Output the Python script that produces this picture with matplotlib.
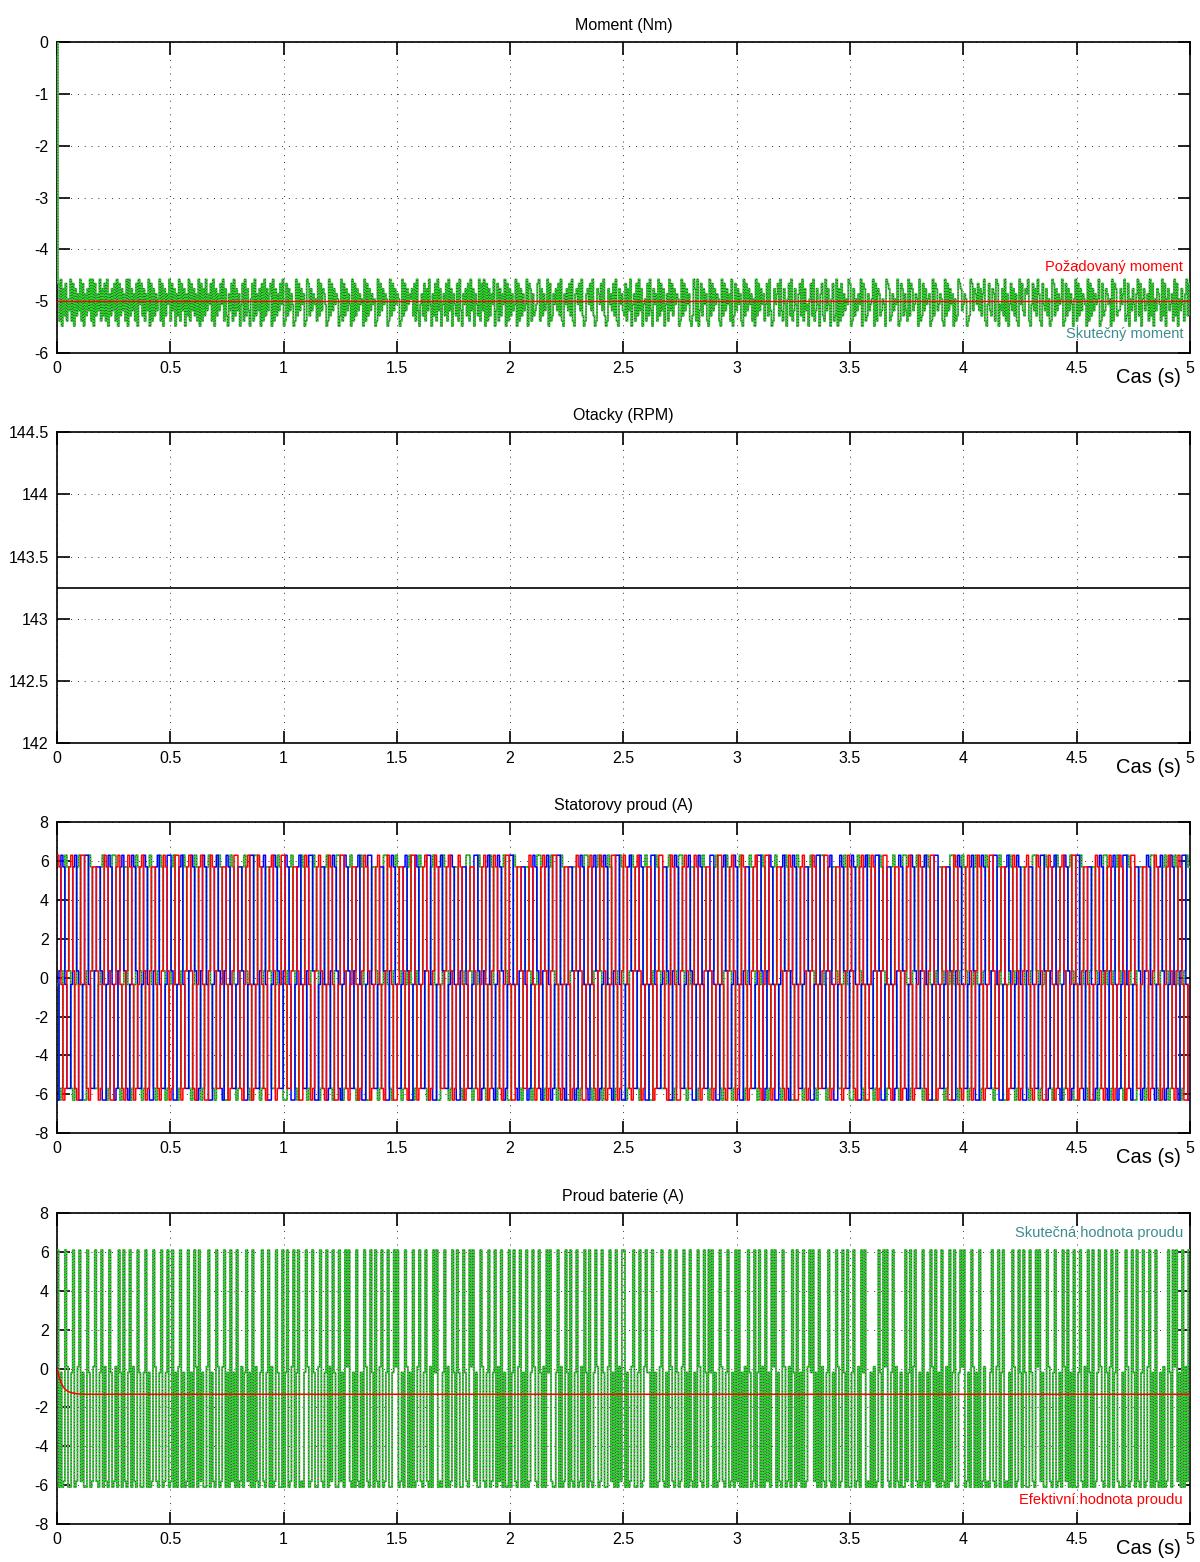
import numpy as np
import matplotlib
matplotlib.use('Agg')
import matplotlib.pyplot as plt
from matplotlib.ticker import FuncFormatter

plt.rcParams['font.family'] = ['Liberation Sans', 'DejaVu Sans']

T_END = 5.0
x_ticks = [0, 0.5, 1, 1.5, 2, 2.5, 3, 3.5, 4, 4.5, 5]

# Moment (Nm): requested value and sampled actual torque (one digit per sample)
torque_ref = -5.0
torque_levels = [-5.48, -5.38, -5.28, -5.18, -5.06, -4.96, -4.86, -4.76, -4.66, -4.58]
torque_codes = (
    "8190728153918072639180627391908263917281906273819082736190"
    "9273618094827163908172635918072649183706291837062918372619"
    "0817293648190726384917206381927360481927305819263708192736"
    "8091726384901827364019283746019827364519283764019283746502"
    "9182736409182736450918273645019283746501928374650192837465"
    "7281930462817394062819370462819370642819306472819370642918"
    "3908172649038172649081726349081726349087162348917263490812"
    "6473829106473829106748392016748392017648392017463829107463"
    "2817390461829370451829307461928370461938274650192837461029"
    "7190382746109283746510928374619028374610928374615092837461"
    "4829301746829317405829137406829173405829137406821937405812"
    "9071826354980172536490871263459081762354098712635490187263"
    "1928734650912837456019287346510928374605129873465012983764"
    "8372691048327619804372916048372610948327691048372961084372"
    "5019827364590182736405918273654091827364590182376450918723"
    "3746912805374169280573461928053764192805734619280537416928"
)

# Otacky (RPM)
speed_rpm = 143.25

# Statorovy proud (A): phase states per commutation step
current_levels = {'H': 6.3, 'h': 5.7, 'Z': 0.35, 'z': -0.35, 'L': -6.3, 'l': -5.7}
phase_a = (
    "HhzLlZ hHZlLz HHzlLZ hhZLlz HhZLLz hHzlLZ HhzLlz hHZLlZ hhzlLZ HhZLlz HHzLlZ hHZlLz "
    "hHzLLZ HhZllz hhzLlZ HHZlLz hHzLlz HhzlLZ hHZLlz HHzllZ hhZLLz HhzLlZ hHZlLz HhzLLz "
    "HHZlLz hhzLlZ HhZLlz hHzlLZ HhzLLz hhZlLZ HHzLlz hHZLlZ HhzllZ hHZLlz HhzLlZ hhZlLz "
    "hHzLlZ HhZlLz HHzLLz hhZllZ HhzLlz hHZLlZ HHzlLz hhzLlZ HhZLLz hHzlLZ HhZLlz HHzLlZ "
    "HhzlLZ hHZLlz hhzLlZ HHZlLz HhzLLZ hHZllz HhzLlZ hhZLlz HHzlLZ hHZLlz HhzLlZ hHZlLz "
    "HHzLlz hhZlLZ HhzLLz hHZLlZ HhzllZ HHZLlz hhzLlZ HhZlLz hHzLLz HhZLlZ HHzlLz hhZLlZ "
    "hHzLlz HhZlLZ HHzLlz hhZLLZ HhzlLz hHZLlZ HhzLlz HHZllZ hhzLlz HhZLlZ hHzlLz HhZLLZ "
    "HhzLlZ hHZlLz HHzLlZ hhzLLz HhZlLZ hHzLlz HhZLlZ HHzllz hhZLlZ HhzLlz hHZlLZ HhzLLz"
)
phase_b = (
    "LZHhzl lzhHZL LzHHzl lZhhZL LzHhzL lZhHZl LzHhZl lzHhzL LZhHzl lzHHZL LzhHzl lZHhZL "
    "lZHhzL LzhHZl LZHhzl lzhhZL LzHHzl lZhHzL LzHhZl lZHhzL LzhHzl lZHHZL LzhhzL lZHhZl "
    "LzHhZl lZhHzL LzHHzl lzhhZL LZHhzl lzhHZL LzHhzl lZHHzL LzhHZl lzHhzL LZhhzl lzHHZL "
    "lZhHzl LzHhZL lzHHzl LZhhzL lzHhZl LZhHzL lzHHzl LzhhZL lZHhzl LzhHZL lzHhzl LZHHzL "
    "LzhHZl lZHhzL LzHHzl lzhhZL LZHhzl lzhHZL LzHhzl lZHHzL LzhHZl lzHhzL LZhhzl lzHHZL "
    "lZHhzL LzhHZl LZHhzl lzhhZL LzHHzl lZhHzL LzHhZl lZHhzL LzhHzl lZHHZL LzhhzL lZHhZl "
    "LzHhZl lZhHzL LzHHzl lzhhZL LZHhzl lzhHZL LzHhzl lZHHzL LzhHZl lzHhzL LZhhzl lzHHZL "
    "lZhHzl LzHhZL lzHHzl LZhhzL lzHhZl LZhHzL lzHHzl LzhhZL lZHhzl LzhHZL lzHhzl LZHHzL"
)
phase_c = (
    "zLlZHh ZlLzhH zLLZHh ZllzhH zLlZHH ZlLzhh zLlzHh ZLlZhH zlLZHh ZLlzhH zLlZHh ZlLzHh "
    "ZLlzhH zlLZHh ZLLzHh zLlZhH ZlLzHH zLlZhh ZllzHh zLLZhH ZlLzHh zLlZHh ZLlzhH zlLZHH "
    "zLlZhH ZlLzHh zLLZhh ZLlzHH zlLZHh ZLlzhH zLlZHh ZlLzhH zLLzHh ZLlZhh zlLZHH ZLlzHh "
    "ZlLzHh zLlZhH ZLLzHh zlLZhh ZLlzHH zLlZhH ZlLzHh zLLZhh ZLlzHH zlLZhH ZLlzHh zLlZHh "
    "zLlZHh ZlLzhH zLLZHh ZllzhH zLlZHH ZlLzhh zLlzHh ZLlZhH zlLZHh ZLlzhH zLlZHh ZlLzHh "
    "ZLlzhH zlLZHh ZLLzHh zLlZhH ZlLzHH zLlZhh ZllzHh zLLZhH ZlLzHh zLlZHh ZLlzhH zlLZHH "
    "zLlZhH ZlLzHh zLLZhh ZLlzHH zlLZHh ZLlzhH zLlZHh ZlLzhH zLLzHh ZLlZhh zlLZHH ZLlzHh "
    "ZlLzHh zLlZhH ZLLzHh zlLZhh ZLlzHH zLlZhH ZlLzHh zLLZhh ZLlzHH zlLZhH ZLlzHh zLlZHh"
)

# Proud baterie (A): sampled battery current and its filtered (effective) value
battery_levels = {'P': 6.1, 'p': 5.8, 'Z': 0.1, 'z': -0.2, 'N': -6.1, 'n': -5.8}
battery_codes = (
    "PNzNnPZN NzPNnZPn zNNPzNnZ PnNzPNZn NPzNnZNP zNPnNzPN ZnNPzNNz PNzNnPZn NzPNnzPN "
    "nPNzNZPN zNnPNzNP ZNPnzNNZ PNznNPZN nZPNzNPn zNPNnZNz PnzNPNZn NzPnNzPN ZNnPzNNP "
    "NzPNnZPN zPNnNzPZ NnPzNNZP nNzPNZnP zNNPnzNP ZPnNzNPn NzNPZnNP zNPnNZPN nzPNNzPZ "
    "PNnzNPZN zNPNnZPn NzPnNZNP zPNnNzPN ZNnPzNPz NNPznNPZ PnzNNPZn NzPNnzPN ZnPNzNNP "
    "NzPnNZPN zNPNnzPZ nNPzNZNP zPnNNzPN ZNnPzNPn NzPNnZNP zNPnNzPZ NnPzNNZP nzNPNZnP "
    "PNzNnZPN NzPNnZPz zNPNzNnZ PnNzNPZn NPzNnZPN zNPnNzNP ZnNPzNPz PNzNnPZn NzPNnzNP "
    "nPNzNZNP zNnPNzPN ZNPnzNPZ PNznNPZN nZNPzNPn zNPNnZPz PnzNPNZn NzPnNzNP ZNnPzNPN "
    "NzPNnZNP zPNnNzNZ NnPzNPZP nNzPNZnN zNNPnzPN ZPnNzNPn NzNPZnPN zNPnNZNP nzPNNzPZ "
    "PNnzNPZN zNPNnZNn NzPnNZPN zPNnNzNP ZNnPzNPz NNPznNPZ PnzNNPZn NzPNnzNP ZnPNzNPN "
    "NzPnNZNP zNPNnzPZ nNPzNZPN zPnNNzNP ZNnPzNPn NzPNnZPN zNPnNzNZ NnPzNPZP nzNPNZnP"
)
battery_rms_t = [0.0, 0.01, 0.02, 0.03, 0.04, 0.05, 0.06, 0.08, 0.10, 0.12, 5.0]
battery_rms = [0.0, -0.45, -0.78, -0.98, -1.10, -1.18, -1.23, -1.28, -1.31, -1.32, -1.32]


def decode(codes, table):
    return np.array([table[c] for c in codes.replace(' ', '')])


def steps(values, t0=0.0):
    t = np.linspace(t0, T_END, len(values) + 1)
    return t, np.append(values, values[-1])


def measured(ax, t, y):
    # gray trace with green/black dotted overlay
    ax.plot(t, y, color='#8c8c8c', lw=1.3, drawstyle='steps-post', zorder=3)
    ax.plot(t, y, color='#1ee61e', lw=1.2, ls=(0, (2, 1)), drawstyle='steps-post', zorder=4)
    ax.plot(t, y, color='black', lw=0.5, ls=(0, (1, 3)), drawstyle='steps-post', zorder=5)


def style(ax, title, ylim, yticks):
    ax.set_xlim(0, T_END)
    ax.set_ylim(*ylim)
    ax.set_xticks(x_ticks)
    ax.set_yticks(yticks)
    fmt = FuncFormatter(lambda v, p: f'{v:g}')
    ax.xaxis.set_major_formatter(fmt)
    ax.yaxis.set_major_formatter(fmt)
    ax.tick_params(direction='in', length=9, width=1.2, top=True, right=True,
                   labelsize=11.5, pad=6)
    ax.grid(True, color='black', ls=(0, (1, 6)), lw=0.7, alpha=0.8)
    for sp in ax.spines.values():
        sp.set_linewidth(1.2)
    ax.set_title(title, fontsize=11.5, pad=9)
    ax.text(0.992, -0.08, 'Cas (s)', transform=ax.transAxes, ha='right',
            va='center', fontsize=14.5)


fig = plt.figure(figsize=(12, 15.62), dpi=100)
left, width, height = 0.0475, 0.944, 0.199
bottoms = [0.774, 0.5243, 0.2746, 0.0243]
axes = [fig.add_axes([left, b, width, height]) for b in bottoms]
teal = '#3d8c8c'

# Moment
ax = axes[0]
tq = decode(torque_codes, {str(i): v for i, v in enumerate(torque_levels)})
t, y = steps(tq, 0.004)
measured(ax, np.concatenate([[0.0], t]), np.concatenate([[0.0], y]))
ax.axhline(torque_ref, color='red', lw=1.0, zorder=6)
style(ax, 'Moment (Nm)', (-6, 0), [-6, -5, -4, -3, -2, -1, 0])
ytr = ax.get_yaxis_transform()
ax.text(0.994, -4.34, 'Požadovaný moment', color='red', transform=ytr,
        ha='right', va='center', fontsize=10.5)
ax.text(0.994, -5.64, 'Skutečný moment', color=teal, transform=ytr,
        ha='right', va='center', fontsize=10.5)

# Otacky
ax = axes[1]
ax.plot([0, T_END], [speed_rpm, speed_rpm], color='black', lw=1.2, zorder=3)
style(ax, 'Otacky (RPM)', (142, 144.5), [142, 142.5, 143, 143.5, 144, 144.5])

# Statorovy proud
ax = axes[2]
t, y = steps(decode(phase_c, current_levels))
measured(ax, t, y)
t, y = steps(decode(phase_b, current_levels))
ax.plot(t, y, color='blue', lw=1.1, drawstyle='steps-post', zorder=6)
t, y = steps(decode(phase_a, current_levels))
ax.plot(t, y, color='red', lw=1.1, drawstyle='steps-post', zorder=7)
style(ax, 'Statorovy proud (A)', (-8, 8), list(range(-8, 9, 2)))

# Proud baterie
ax = axes[3]
t, y = steps(decode(battery_codes, battery_levels))
measured(ax, t, y)
ax.plot(battery_rms_t, battery_rms, color='red', lw=1.1, zorder=6)
style(ax, 'Proud baterie (A)', (-8, 8), list(range(-8, 9, 2)))
ytr = ax.get_yaxis_transform()
ax.text(0.994, 6.97, 'Skutečná hodnota proudu', color=teal, transform=ytr,
        ha='right', va='center', fontsize=10.5)
ax.text(0.994, -6.76, 'Efektivní hodnota proudu', color='red', transform=ytr,
        ha='right', va='center', fontsize=10.5)

fig.savefig('out.png', dpi=100)
